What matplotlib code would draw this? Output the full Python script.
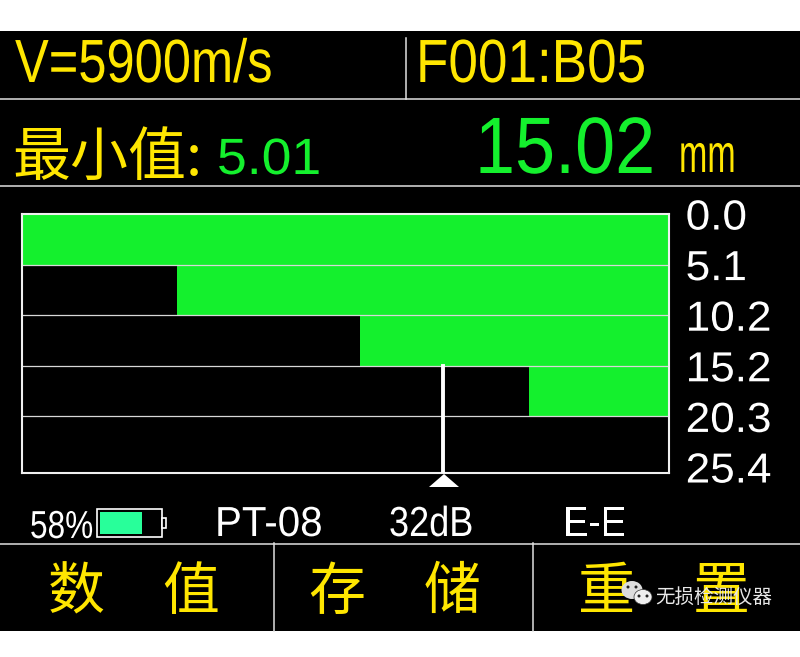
import matplotlib
matplotlib.use("Agg")
import matplotlib.pyplot as plt
from matplotlib.patches import Rectangle, Polygon, Ellipse
from matplotlib.patheffects import AbstractPathEffect
from matplotlib.transforms import Affine2D

YELLOW = '#ffe600'
GREEN = '#14f02d'
CJK = ['Noto Sans CJK SC', 'DejaVu Sans']
SANS = ['Liberation Sans']

# thickness profile: depth bands and where the green starts along the scan (%)
band_tops = [0.0, 5.08, 10.16, 15.24, 20.32]
band_height = 5.08
band_starts = [0.0, 24.0, 52.2, 78.4, 100.0]
cursor_pos = 65.1
cursor_depth = 15.24
depth_ticks = [0.0, 5.08, 10.16, 15.24, 20.32, 25.4]
depth_labels = ['0.0', '5.1', '10.2', '15.2', '20.3', '25.4']
battery_level = 58


class Squeeze(AbstractPathEffect):
    """The screen font is narrower than anything installed, so scale the
    glyphs in x around the start of the text."""

    def __init__(self, sx):
        super().__init__()
        self.sx = sx

    def draw_path(self, renderer, gc, tpath, affine, rgbFace=None):
        x0 = affine.get_matrix()[0, 2]
        squeeze = Affine2D().translate(-x0, 0).scale(self.sx, 1).translate(x0, 0)
        renderer.draw_path(gc, tpath, affine + squeeze, rgbFace)


def px(size):
    """Font size in points from a height in pixels at dpi 100."""
    return size * 0.72


def label(ax, x, y, s, size, color, sx=1.0, family=SANS, ha='left'):
    t = ax.text(x, y, s, fontsize=px(size), color=color, family=family, ha=ha,
                va='baseline', zorder=5)
    if sx != 1.0:
        t.set_path_effects([Squeeze(sx)])
    return t


def main():
    fig = plt.figure(figsize=(8, 6.57), dpi=100, facecolor='white')

    # pixel layer for the instrument screen, y goes down like the picture
    scr = fig.add_axes([0, 0, 1, 1])
    scr.set_xlim(0, 800)
    scr.set_ylim(657, 0)
    scr.axis('off')
    scr.add_patch(Rectangle((0, 31), 800, 600, color='black', lw=0))

    for y in [99, 186, 544]:
        scr.plot([0, 800], [y, y], color='#e0e0e0', lw=1.1)
    scr.plot([406, 406], [38, 99], color='#e0e0e0', lw=1.1)
    scr.plot([274, 274], [543, 631], color='#e0e0e0', lw=1.1)
    scr.plot([533, 533], [543, 631], color='#e0e0e0', lw=1.1)

    label(scr, 15, 82, 'V=5900m/s', 61, YELLOW, 0.83)
    label(scr, 416, 82, 'F001:B05', 61, YELLOW, 0.87)
    label(scr, 12, 175, '最小值:', 58, YELLOW, family=CJK)
    label(scr, 217, 174, '5.01', 51, GREEN, 1.05)
    label(scr, 475, 173, '15.02', 80, GREEN, 0.9)
    label(scr, 679, 172, 'mm', 54, YELLOW, 0.63)

    # thickness chart
    ax = fig.add_axes([22 / 800, 1 - 473 / 657, 647 / 800, 259 / 657],
                      facecolor='black')
    ax.set_xlim(0, 100)
    ax.set_ylim(26.0, 0)
    widths = [100 - s for s in band_starts]
    ax.barh(band_tops, widths, left=band_starts, height=band_height,
            align='edge', color=GREEN, lw=0, zorder=1)
    for d in depth_ticks[1:-1]:
        ax.axhline(d, color='#d8d8d8', lw=0.9, zorder=2)
    ax.plot([cursor_pos, cursor_pos], [cursor_depth, 26.0], color='white',
            lw=2.8, zorder=3)
    ax.set_xticks([])
    ax.set_yticks([])
    for s in ax.spines.values():
        s.set_color('#f0f0f0')
        s.set_linewidth(1.5)

    # the labels sit on a slightly wider spacing than the bands
    ax2 = ax.twinx()
    ax2.set_ylim(26.0, 0.49)
    ax2.set_yticks(depth_ticks)
    ax2.set_yticklabels(depth_labels, family=SANS, fontsize=px(42),
                        color='white')
    ax2.tick_params(axis='y', length=0, pad=12)
    for t in ax2.get_yticklabels():
        t.set_path_effects([Squeeze(1.05)])
    for s in ax2.spines.values():
        s.set_visible(False)

    scr.add_patch(Polygon([[444, 474], [429, 487], [459, 487]], color='white',
                          lw=0))

    # status row
    label(scr, 30, 538, '58%', 39, 'white', 0.81)
    scr.add_patch(Rectangle((97, 509), 65, 28, fc='black', ec='white', lw=1.2))
    scr.add_patch(Rectangle((100, 512), 72 * battery_level / 100, 22,
                            fc='#28ff9a', lw=0))
    scr.add_patch(Rectangle((162, 518), 4, 10, fc='black', ec='white', lw=1.2))
    label(scr, 215, 536, 'PT-08', 42, 'white', 0.96)
    label(scr, 389, 536, '32dB', 42, 'white', 0.86)
    label(scr, 563, 536, 'E-E', 42, 'white', 0.9)

    # soft keys
    for x, ch in [(48, '数'), (162, '值'), (308, '存'), (424, '储'),
                  (578, '重'), (693, '置')]:
        label(scr, x, 609, ch, 57, YELLOW, family=CJK)

    # watermark
    scr.add_patch(Ellipse((632, 590), 21, 18, fc='#dcdcdc', lw=0, zorder=6))
    scr.add_patch(Ellipse((643, 597), 18, 15, fc='#efefef', ec='#333333',
                          lw=0.5, zorder=6))
    for x, y in [(628, 587), (636, 587), (639, 596), (647, 596)]:
        scr.add_patch(Ellipse((x, y), 3, 3, fc='#222222', lw=0, zorder=7))
    label(scr, 655, 603, '无损检测仪器', 19.5, '#e8e8e8', family=CJK).set_zorder(7)

    fig.savefig('out.png', dpi=100, facecolor=fig.get_facecolor())
    plt.close(fig)


if __name__ == "__main__":
    main()
